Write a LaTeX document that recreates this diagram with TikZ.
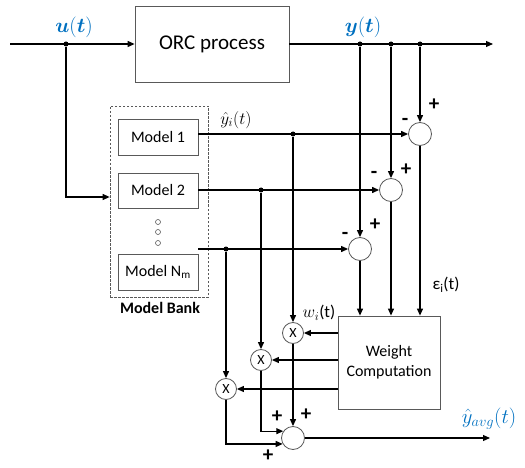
\documentclass[tikz,border=0pt]{standalone}
\usepackage{fontspec}
\usepackage{amsmath,bm}
\setmainfont{Carlito}
\usetikzlibrary{arrows.meta}
\definecolor{officeblue}{RGB}{0,112,192}
\tikzset{
  conn/.style={line width=1.1pt, draw=black},
  arr/.style={conn, -{Triangle[length=7pt,width=6pt]}},
  blk/.style={draw=black!65, line width=0.8pt, rectangle, inner sep=0pt, align=center},
  sumc/.style={draw=black!65, line width=0.8pt, circle, minimum size=23pt, inner sep=0pt, fill=white},
  mulc/.style={draw=black!65, line width=0.8pt, circle, minimum size=21pt, inner sep=0pt, fill=white, font=\fontsize{14}{14}\selectfont},
  dotj/.style={circle, fill=black, inner sep=0pt, minimum size=5pt},
  sgn/.style={font=\bfseries\fontsize{21}{21}\selectfont, inner sep=0pt},
  lbl/.style={inner sep=0pt},
}
\begin{document}
\begin{tikzpicture}[x=1pt,y=-1pt]
\useasboundingbox (0,0) rectangle (525,468);
% main blocks
\node[blk, minimum width=154pt, minimum height=76pt, font=\fontsize{21}{24}\selectfont] (orc) at (212,44) {ORC process};
\node[draw=black!65, dash pattern=on 2.5pt off 1.5pt, line width=0.7pt, minimum width=98pt, minimum height=191pt, inner sep=0pt] (bank) at (159,201.5) {};
\node[blk, minimum width=80pt, minimum height=36pt, font=\fontsize{16}{18}\selectfont] (m1) at (158,137) {Model 1};
\node[blk, minimum width=80pt, minimum height=35pt, font=\fontsize{16}{18}\selectfont] (m2) at (158,190.5) {Model 2};
\node[blk, minimum width=80pt, minimum height=36pt, font=\fontsize{16}{18}\selectfont] (mn) at (158,272) {Model N\textsubscript{m}};
\node[circle, draw=black!65, line width=0.6pt, minimum size=5pt, inner sep=0pt] (d1) at (158,222) {};
\node[circle, draw=black!65, line width=0.6pt, minimum size=5pt, inner sep=0pt] (d2) at (158,232) {};
\node[circle, draw=black!65, line width=0.6pt, minimum size=5pt, inner sep=0pt] (d3) at (158,243) {};
\node[lbl, font=\bfseries\fontsize{16}{18}\selectfont] (bl) at (160,308) {Model Bank};
\node[blk, minimum width=102pt, minimum height=93pt, font=\fontsize{16}{19}\selectfont] (wc) at (389,362.5) {Weight\\[1pt]Computation};
% sum circles
\node[sumc] (s1) at (420,134) {};
\node[sumc] (s2) at (391,190) {};
\node[sumc] (s3) at (360,249) {};
\node[sumc] (sf) at (293,438) {};
% multipliers
\node[mulc] (x1) at (293,333) {X};
\node[mulc] (x2) at (261,360) {X};
\node[mulc] (x3) at (226,389) {X};
% junction coordinates
\coordinate (in) at (10,44);
\coordinate (out) at (493,44);
\node[dotj] (j1) at (66,44) {};
\node[dotj] (jy1) at (360,44) {};
\node[dotj] (jy2) at (391,44) {};
\node[dotj] (jy3) at (420,44) {};
\node[dotj] (k1) at (293,134) {};
\node[dotj] (k2) at (261,190) {};
\node[dotj] (k3) at (226,249) {};
\coordinate (fout) at (490,438);
% connectors top
\draw[arr] (in) -- (orc.west);
\draw[arr] (orc.east) -- (out);
\draw[arr] (j1) |- ([yshift=4.5pt]bank.west);
\draw[arr] (jy3) -- (s1);
\draw[arr] (jy2) -- (s2);
\draw[arr] (jy1) -- (s3);
% model outputs
\draw[arr] (m1.east |- s1) -- (s1);
\draw[arr] (m2.east |- s2) -- (s2);
\draw[arr] (mn.east |- s3) -- (s3);
% sums to weight computation
\draw[arr] (s1) -- (s1 |- wc.north);
\draw[arr] (s2) -- (s2 |- wc.north);
\draw[arr] (s3) -- (s3 |- wc.north);
% model outputs to multipliers
\draw[arr] (k1) -- (x1);
\draw[arr] (k2) -- (x2);
\draw[arr] (k3) -- (x3);
% weights to multipliers
\draw[arr] (wc.west |- x1) -- (x1);
\draw[arr] (wc.west |- x2) -- (x2);
\draw[arr] (wc.west |- x3) -- (x3);
% multipliers to final sum
\draw[arr] (x1) -- (sf);
\draw[arr] (x2) |- (sf.145);
\draw[arr] (x3) |- (sf.210);
\draw[arr] (sf) -- (fout);
% labels
\node[lbl, text=officeblue, font=\fontsize{22}{22}\selectfont] (lu) at (74,27) {$\bm{u}\mathbf{(}\bm{t}\mathbf{)}$};
\node[lbl, text=officeblue, font=\fontsize{22}{22}\selectfont] (ly) at (363,27) {$\bm{y}\mathbf{(}\bm{t}\mathbf{)}$};
\node[lbl, font=\fontsize{18}{18}\selectfont] (lyh) at (236,120) {$\hat{y}_i(t)$};
\node[lbl, font=\fontsize{17}{17}\selectfont] (leps) at (446,285) {ε\textsubscript{i}(t)};
\node[lbl, font=\fontsize{17}{17}\selectfont] (lw) at (319,313) {$w_i$(t)};
\node[lbl, text=officeblue, font=\fontsize{22}{22}\selectfont] (lavg) at (489,419) {$\hat{y}_{avg}(t)$};
% signs
\node[sgn] at (434,105) {+};
\node[sgn] at (405,122) {-};
\node[sgn] at (406,170) {+};
\node[sgn] at (374,175) {-};
\node[sgn] at (375,225) {+};
\node[sgn] at (345,236) {-};
\node[sgn] at (277,417) {+};
\node[sgn] at (306,415) {+};
\node[sgn] at (268,456) {+};
\end{tikzpicture}
\end{document}
